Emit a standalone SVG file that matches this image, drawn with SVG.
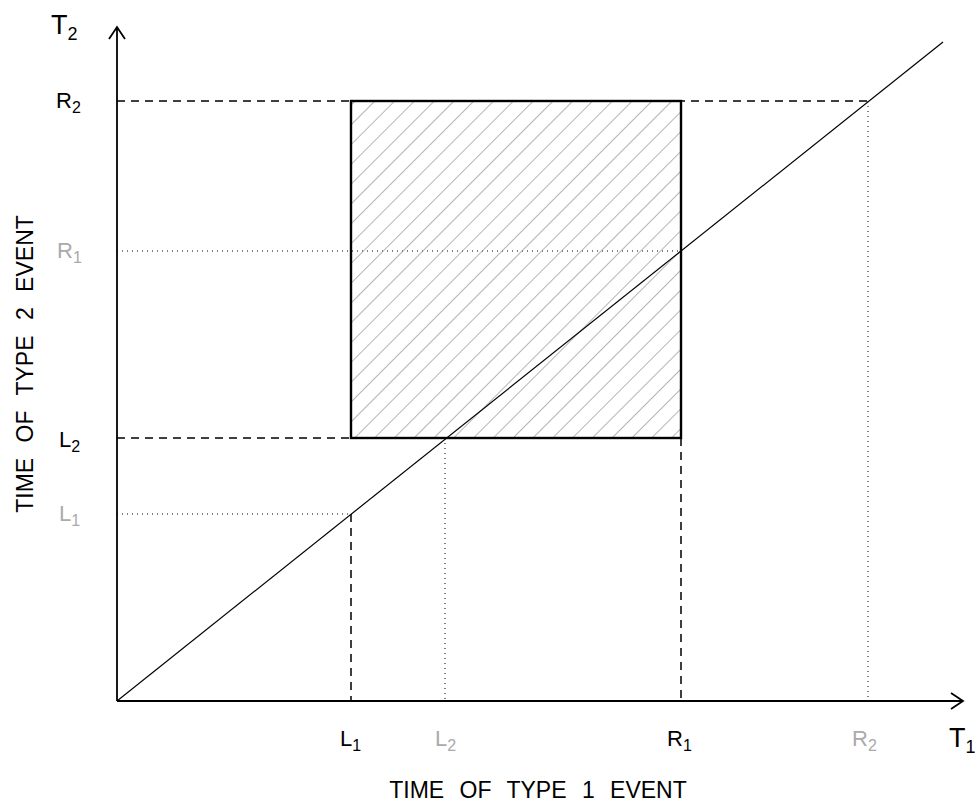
<svg xmlns="http://www.w3.org/2000/svg" width="979" height="810" viewBox="0 0 979 810">
<style>
text{font-family:"Liberation Sans",Arial,sans-serif;font-size:22px;fill:#000}
.g{fill:#aaa}
.sub{font-size:16px}
.big{font-size:27px}
.big .sub{font-size:18px}
.title{font-size:23px;word-spacing:9px}
.dash{stroke:#000;stroke-width:1.5;stroke-dasharray:8 6;fill:none}
.dot{stroke:#000;stroke-width:1;stroke-dasharray:1 4;fill:none}
.ax{stroke:#000;stroke-width:1.8;fill:none}
</style>
<defs>
<pattern id="hatch" patternUnits="userSpaceOnUse" width="14" height="14" patternTransform="rotate(45)">
<line x1="0" y1="0" x2="0" y2="14" stroke="#8c8c8c" stroke-width="1.3"/>
</pattern>
</defs>
<rect width="979" height="810" fill="#fff"/>
<g id="connectors">
<path class="dash" d="M117 101H868"/>
<path class="dot" d="M868 101V701"/>
<path class="dot" d="M117 251H681"/>
<path class="dash" d="M117 438H351"/>
<path class="dot" d="M445 438V701"/>
<path class="dot" d="M117 514H351"/>
<path class="dash" d="M351 514V701"/>
<path class="dash" d="M681 438V701"/>
</g>
<g id="region">
<rect x="351" y="101" width="330" height="337" fill="url(#hatch)" stroke="#000" stroke-width="2.4"/>
</g>
<g id="diagonal">
<line x1="117" y1="701" x2="943" y2="42" stroke="#000" stroke-width="1.2"/>
</g>
<g id="axes">
<path class="ax" d="M117 701V28M109 39L117 27L125 39"/>
<path class="ax" d="M117 701H962M951 693L963 701L951 709"/>
</g>
<g id="labels">
<text x="51" y="34" class="big">T<tspan class="sub" dy="6">2</tspan></text>
<text x="56" y="108">R<tspan class="sub" dy="5">2</tspan></text>
<text x="57" y="258" class="g">R<tspan class="sub" dy="5">1</tspan></text>
<text x="59" y="447">L<tspan class="sub" dy="5">2</tspan></text>
<text x="59" y="521" class="g">L<tspan class="sub" dy="5">1</tspan></text>
<text x="340" y="746">L<tspan class="sub" dy="5">1</tspan></text>
<text x="435" y="746" class="g">L<tspan class="sub" dy="5">2</tspan></text>
<text x="667" y="746">R<tspan class="sub" dy="5">1</tspan></text>
<text x="852" y="746" class="g">R<tspan class="sub" dy="5">2</tspan></text>
<text x="949" y="747" class="big">T<tspan class="sub" dy="6">1</tspan></text>
<text x="538" y="798" text-anchor="middle" class="title">TIME OF TYPE 1 EVENT</text>
<text transform="translate(33 364) rotate(-90)" text-anchor="middle" class="title">TIME OF TYPE 2 EVENT</text>
</g>
</svg>
